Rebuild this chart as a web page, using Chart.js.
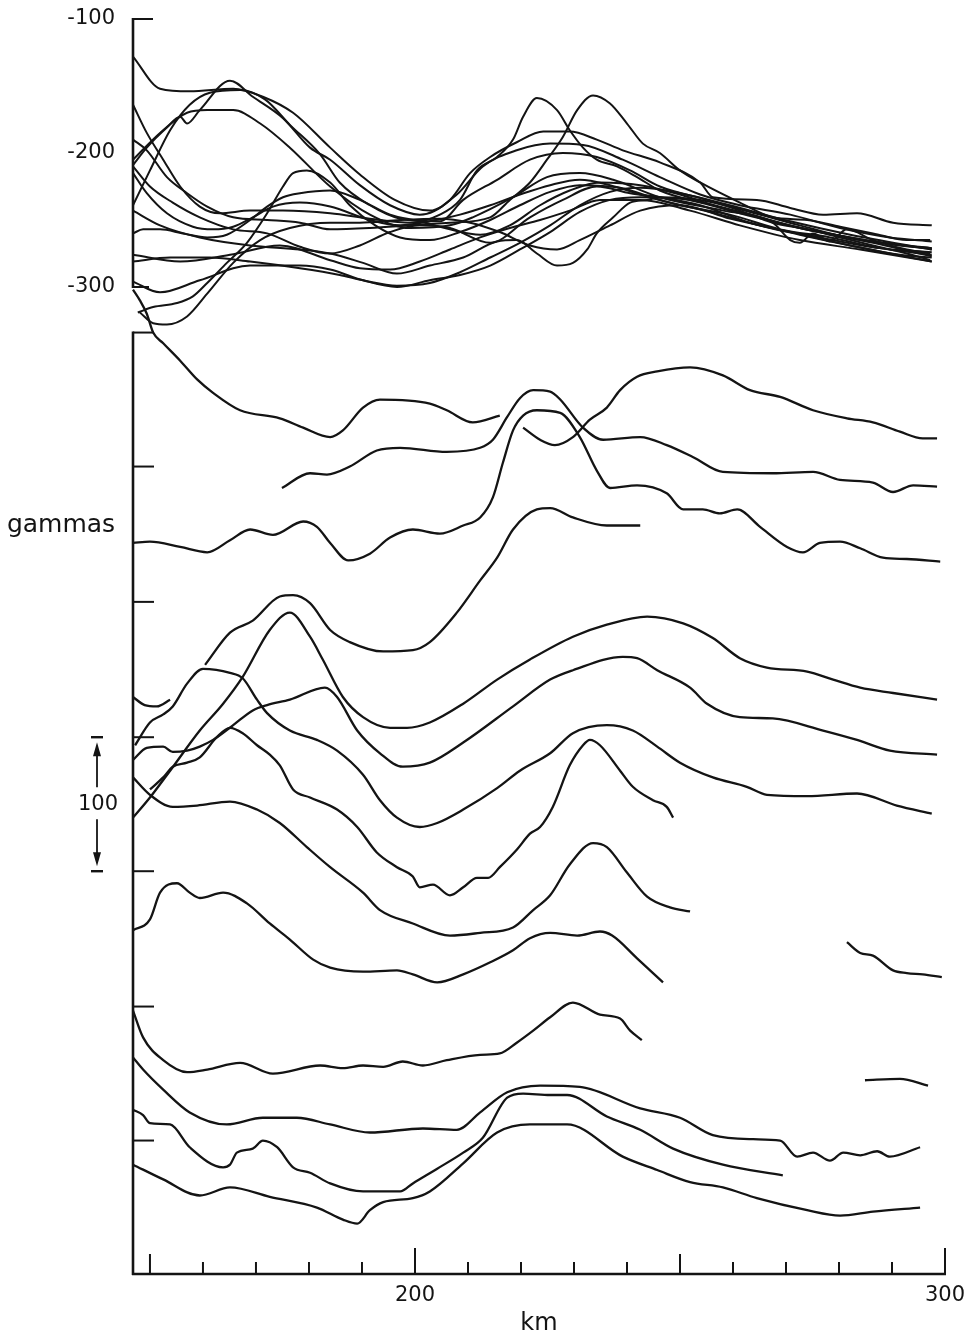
<!DOCTYPE html>
<html>
<head>
<meta charset="utf-8">
<script src="https://cdn.jsdelivr.net/npm/chart.js@4.4.1/dist/chart.umd.min.js"></script>
<style>
  html, body { margin: 0; padding: 0; background: #fff; }
  canvas { display: block; }
</style>
</head>
<body>
<canvas id="profileChart" width="976" height="1340"></canvas>
<script>
// axis ticks (km along track, gammas)
var kmTicks = [150, 160, 170, 180, 190, 200, 210, 220, 230, 240, 250, 260, 270, 280, 290, 300];
var kmLabels = [200, 300];
var kmLongTicks = [150, 200, 250, 300];
var gammaLabels = [-100, -200, -300];
var lowerTicks = [-334, -434, -535, -636, -736, -837, -937];
var scaleBarTop = -636;   // the "100 gammas" bar starts at this tick
var gammasLabelAt = -478;

// upper group: superposed profiles, [km, gammas]
var upper01 = [[146.8,-128],[151.9,-152],[157.5,-154],[165.7,-152],[171.3,-158],[177.0,-170],[184.0,-196],[189.6,-216],[196.2,-235],[202.8,-243],[207.9,-231],[212.8,-210],[219.2,-198],[225.5,-193],[231.7,-194],[239.2,-205],[246.2,-218],[253.8,-231],[261.3,-239],[270.8,-246],[280.2,-256],[289.6,-263],[297.5,-266]];
var upper02 = [[146.8,-209],[149.4,-196],[153.2,-181],[155.7,-173],[157.0,-178],[159.4,-168],[165.1,-146],[169.4,-158],[175.1,-174],[180.2,-196],[184.0,-205],[189.6,-224],[195.3,-239],[200.9,-246],[206.6,-235],[210.4,-215],[214.2,-203],[219.2,-192],[224.2,-184],[229.2,-184],[234.3,-190],[239.2,-198],[246.2,-207],[253.8,-222],[256.2,-233],[264.5,-235],[270.8,-241],[277.0,-246],[283.4,-245],[290.2,-252],[297.5,-254]];
var upper03 = [[146.8,-239],[150.0,-213],[153.8,-183],[157.5,-164],[161.3,-155],[167.0,-153],[171.7,-160],[176.4,-179],[182.1,-201],[185.8,-222],[191.5,-239],[197.2,-249],[204.7,-251],[209.1,-235],[215.5,-220],[221.7,-205],[227.9,-200],[234.3,-203],[240.6,-213],[246.2,-225],[255.1,-235],[261.3,-243],[267.5,-252],[274.0,-257],[280.2,-263],[286.4,-269],[292.8,-275],[297.2,-280]];
var upper04 = [[146.8,-205],[151.9,-185],[157.0,-170],[160.8,-168],[165.7,-168],[170.8,-178],[176.4,-196],[184.0,-225],[191.5,-246],[199.1,-256],[206.6,-254],[210.9,-248],[218.5,-233],[224.9,-218],[231.1,-215],[237.4,-220],[246.2,-233],[258.1,-243],[267.5,-252],[270.8,-265],[272.6,-267],[275.1,-260],[278.3,-266],[281.5,-257],[286.4,-265],[292.8,-272],[297.2,-275]];
var upper05 = [[146.8,-164],[149.4,-185],[152.5,-205],[155.7,-225],[159.4,-240],[163.2,-245],[168.9,-243],[175.1,-243],[184.0,-245],[191.5,-249],[199.1,-252],[204.7,-246],[208.5,-235],[211.7,-213],[215.5,-203],[218.5,-190],[220.4,-173],[223.0,-159],[226.8,-168],[229.2,-183],[231.7,-196],[234.3,-205],[238.1,-210],[241.9,-218],[246.2,-228],[253.8,-237],[263.2,-246],[272.6,-256],[282.1,-263],[291.5,-269],[297.5,-271]];
var upper06 = [[146.8,-190],[149.4,-198],[153.2,-218],[157.0,-230],[160.8,-240],[165.7,-248],[172.1,-250],[178.3,-252],[184.0,-257],[191.5,-256],[199.1,-254],[206.6,-252],[214.2,-248],[217.9,-235],[221.7,-222],[224.9,-205],[227.9,-188],[230.6,-168],[233.6,-157],[236.8,-163],[240.0,-178],[243.0,-193],[246.2,-200],[250.0,-213],[253.8,-222],[261.3,-237],[267.5,-248],[274.0,-250],[280.2,-255],[286.4,-260],[292.8,-265],[297.2,-265]];
var upper07 = [[146.8,-210],[150.0,-225],[154.3,-237],[159.4,-248],[165.7,-257],[172.1,-260],[178.3,-270],[184.0,-275],[189.6,-269],[195.3,-259],[200.9,-254],[206.6,-256],[214.2,-267],[221.7,-248],[227.9,-235],[234.3,-225],[240.6,-230],[246.2,-233],[253.8,-239],[263.2,-252],[272.6,-261],[282.1,-269],[291.5,-276],[297.5,-278]];
var upper08 = [[146.8,-215],[149.4,-230],[153.2,-245],[158.1,-255],[161.9,-257],[165.7,-255],[169.4,-248],[173.2,-240],[178.3,-237],[184.0,-240],[191.5,-250],[197.2,-254],[202.8,-251],[208.5,-246],[214.2,-239],[219.8,-231],[225.5,-224],[231.1,-220],[236.8,-224],[242.5,-231],[250.0,-239],[259.4,-246],[268.9,-257],[278.3,-263],[287.7,-271],[297.5,-276]];
var upper09 = [[146.8,-260],[148.7,-257],[151.9,-257],[156.2,-260],[160.8,-263],[164.5,-261],[168.9,-250],[172.1,-240],[175.1,-233],[178.3,-230],[184.0,-228],[189.6,-235],[195.3,-246],[200.9,-251],[206.6,-257],[212.3,-261],[217.9,-254],[223.6,-239],[229.2,-228],[234.9,-222],[242.5,-224],[250.0,-231],[259.4,-243],[270.8,-254],[282.1,-263],[297.5,-272]];
var upper10 = [[147.7,-319],[150.6,-315],[155.1,-312],[158.1,-307],[160.8,-297],[164.5,-282],[168.3,-267],[172.1,-245],[175.1,-225],[177.0,-215],[179.6,-213],[184.0,-222],[187.7,-239],[192.5,-254],[197.2,-263],[202.8,-265],[208.5,-259],[214.2,-250],[219.8,-239],[225.5,-229],[231.1,-224],[238.7,-226],[246.2,-235],[255.7,-244],[265.1,-254],[276.4,-263],[287.7,-271],[297.5,-274]];
var upper11 = [[148.1,-319],[150.6,-327],[153.2,-328],[157.0,-322],[160.8,-305],[165.7,-282],[170.8,-265],[176.4,-256],[184.0,-252],[189.6,-252],[197.2,-250],[204.7,-249],[210.4,-252],[216.0,-259],[221.7,-269],[226.8,-272],[231.1,-265],[236.8,-254],[242.5,-243],[250.0,-239],[259.4,-249],[270.8,-259],[282.1,-269],[297.5,-281]];
var upper12 = [[146.8,-276],[155.7,-281],[165.1,-276],[174.5,-269],[184.0,-280],[189.6,-286],[195.3,-287],[200.9,-281],[206.6,-272],[212.3,-263],[217.9,-256],[223.6,-250],[229.2,-243],[234.9,-235],[242.5,-235],[251.9,-243],[261.3,-254],[272.6,-265],[284.0,-272],[297.5,-281]];
var upper13 = [[146.8,-281],[153.8,-278],[161.3,-278],[168.9,-281],[178.3,-286],[185.8,-291],[190.2,-295],[196.6,-299],[202.8,-297],[208.5,-289],[214.2,-278],[219.8,-267],[225.5,-254],[231.1,-239],[236.8,-229],[242.5,-226],[250.0,-230],[259.4,-239],[270.8,-251],[282.1,-261],[297.5,-272]];
var upper14 = [[146.8,-243],[151.9,-254],[159.4,-263],[168.9,-269],[178.3,-272],[184.0,-275],[190.2,-282],[196.6,-290],[202.8,-284],[209.1,-278],[215.5,-266],[219.2,-265],[223.0,-275],[226.8,-284],[229.8,-282],[232.5,-272],[234.3,-260],[237.4,-248],[240.6,-237],[243.8,-235],[246.2,-233],[253.8,-235],[263.2,-244],[272.6,-254],[284.0,-265],[297.5,-271]];
var upper15 = [[146.8,-296],[151.9,-304],[159.4,-295],[168.9,-284],[178.3,-284],[184.0,-287],[190.2,-295],[196.6,-300],[202.8,-295],[208.5,-291],[214.2,-284],[219.8,-272],[225.5,-259],[231.1,-244],[236.8,-235],[242.5,-233],[251.9,-235],[261.3,-244],[272.6,-256],[284.0,-265],[297.5,-277]];

// lower group: stacked profiles, each shifted down, [km, gammas]
var lower01 = [[146.8,-302],[148.1,-310],[149.4,-320],[150.6,-334],[152.5,-342],[155.7,-355],[158.9,-369],[161.9,-379],[167.0,-392],[174.5,-398],[178.9,-405],[184.0,-412],[186.4,-407],[190.2,-390],[193.4,-384],[202.8,-387],[206.0,-392],[210.9,-401],[216.0,-396],[218.2,null],[220.4,-405],[223.6,-414],[226.4,-418],[229.8,-412],[233.0,-399],[236.2,-390],[238.7,-377],[241.9,-367],[245.7,-363],[251.9,-360],[258.1,-366],[263.2,-377],[268.9,-382],[275.1,-392],[281.5,-398],[286.4,-401],[291.5,-408],[295.8,-413],[298.5,-413]];
var lower02 = [[174.9,-450],[180.2,-439],[183.4,-440],[187.7,-434],[192.8,-422],[197.2,-420],[206.0,-423],[212.3,-420],[214.7,-414],[217.4,-397],[219.8,-383],[222.3,-377],[225.5,-378],[227.4,-384],[231.7,-405],[235.5,-414],[242.5,-412],[247.5,-418],[252.5,-427],[258.1,-438],[267.5,-439],[275.1,-438],[280.2,-444],[286.4,-446],[290.2,-453],[294.0,-448],[298.5,-449]];
var lower03 = [[146.8,-491],[150.0,-490],[155.7,-494],[160.8,-498],[165.1,-489],[168.9,-481],[173.2,-485],[178.9,-475],[181.5,-479],[184.0,-491],[187.4,-504],[191.5,-499],[195.3,-487],[199.6,-481],[204.7,-484],[209.1,-478],[212.3,-472],[214.7,-457],[216.6,-431],[218.5,-407],[220.4,-396],[223.0,-392],[227.4,-394],[231.1,-412],[234.3,-437],[236.8,-450],[241.9,-448],[247.5,-454],[250.6,-466],[254.3,-466],[257.5,-469],[260.8,-466],[265.1,-479],[270.2,-494],[273.2,-498],[276.4,-491],[280.2,-490],[284.0,-495],[288.3,-502],[292.8,-503],[299.1,-505]];
var lower04 = [[160.4,-582],[165.1,-558],[169.4,-549],[174.5,-531],[177.0,-530],[180.2,-536],[184.0,-556],[187.7,-565],[194.0,-572],[199.6,-571],[202.8,-565],[207.9,-543],[212.3,-519],[215.5,-502],[218.5,-481],[223.0,-466],[225.5,-465],[229.8,-472],[236.2,-478],[242.5,-478]];
var lower05 = [[146.8,-696],[150.0,-681],[153.8,-661],[159.4,-631],[163.8,-611],[167.5,-591],[172.6,-556],[176.4,-543],[180.2,-561],[182.6,-578],[186.4,-606],[190.2,-621],[195.3,-629],[198.5,-629],[202.8,-625],[209.1,-611],[215.5,-593],[221.7,-578],[229.8,-561],[236.2,-552],[243.8,-546],[250.6,-551],[256.2,-562],[261.3,-577],[266.4,-584],[274.0,-587],[278.9,-593],[284.0,-599],[290.2,-603],[298.5,-608]];
var lower06 = [[146.8,-653],[149.4,-644],[152.5,-643],[154.3,-647],[157.0,-646],[159.4,-643],[161.9,-638],[165.7,-627],[169.4,-616],[172.1,-612],[176.4,-608],[183.0,-599],[185.3,-606],[189.1,-631],[193.4,-648],[197.7,-658],[202.8,-655],[209.1,-640],[218.5,-613],[225.5,-593],[229.8,-586],[239.2,-576],[241.9,-577],[245.7,-586],[251.9,-599],[255.1,-611],[261.3,-621],[267.5,-622],[277.0,-631],[283.4,-638],[289.6,-646],[298.5,-649]];
var lower07 = [[147.2,-642],[150.0,-625],[152.5,-619],[154.3,-613],[157.0,-596],[160.0,-585],[165.1,-588],[167.5,-592],[170.2,-608],[172.1,-618],[176.4,-631],[181.5,-638],[185.3,-646],[190.2,-664],[193.4,-683],[196.6,-696],[200.9,-703],[204.2,-700],[209.1,-690],[215.5,-674],[219.8,-661],[225.5,-648],[229.8,-633],[236.2,-627],[241.1,-631],[245.7,-643],[250.0,-655],[256.2,-666],[262.6,-673],[266.4,-679],[274.0,-680],[283.4,-678],[290.9,-687],[297.5,-693]];
var lower08 = [[150.0,-675],[152.5,-666],[154.3,-658],[157.0,-655],[159.4,-651],[162.6,-636],[165.1,-629],[167.5,-633],[170.2,-642],[172.6,-649],[174.5,-657],[177.0,-675],[180.2,-681],[185.3,-690],[189.1,-703],[192.8,-722],[196.6,-733],[199.6,-740],[200.9,-748],[203.4,-746],[206.6,-754],[209.1,-748],[211.7,-741],[213.8,-741],[216.0,-733],[219.2,-720],[221.7,-708],[223.6,-703],[226.0,-688],[229.2,-657],[231.7,-642],[233.0,-638],[234.9,-642],[238.7,-661],[241.1,-673],[244.9,-683],[247.5,-688],[248.7,-696]];
var lower09 = [[146.8,-666],[150.0,-679],[154.3,-688],[158.9,-687],[165.1,-684],[170.2,-690],[174.5,-700],[179.6,-718],[184.0,-733],[190.2,-752],[193.4,-765],[199.6,-775],[206.6,-784],[212.3,-782],[218.5,-778],[222.3,-765],[225.5,-754],[229.2,-731],[233.6,-715],[236.2,-718],[240.0,-737],[243.8,-755],[248.1,-763],[251.9,-766]];
var lower10 = [[146.8,-606],[149.0,-612],[151.3,-613],[153.8,-608]];
var lower11 = [[146.8,-780],[150.0,-772],[151.9,-752],[155.1,-745],[157.5,-752],[159.4,-756],[163.8,-752],[168.3,-760],[172.6,-775],[176.4,-787],[180.8,-802],[184.0,-808],[190.2,-811],[196.6,-810],[199.6,-813],[204.2,-819],[209.1,-813],[214.2,-804],[218.5,-795],[221.7,-786],[225.5,-782],[230.6,-784],[234.9,-781],[237.2,-784],[241.9,-801],[246.8,-819]];
var lower12 = [[146.8,-840],[148.7,-860],[152.5,-877],[157.0,-886],[160.8,-884],[167.0,-879],[173.2,-887],[182.1,-881],[186.4,-883],[190.2,-881],[194.0,-882],[197.7,-878],[201.5,-881],[206.0,-877],[212.3,-873],[216.0,-872],[219.2,-864],[222.3,-855],[225.5,-845],[229.8,-834],[234.9,-843],[238.7,-846],[240.6,-855],[242.8,-862]];
var lower13 = [[146.8,-875],[148.7,-884],[152.5,-899],[157.5,-916],[164.5,-925],[171.3,-920],[177.7,-920],[184.0,-925],[191.5,-931],[201.5,-928],[207.9,-929],[212.3,-916],[217.4,-901],[223.6,-896],[231.1,-897],[242.5,-913],[250.0,-920],[256.2,-933],[263.8,-936],[268.9,-937],[272.1,-949],[275.1,-946],[278.3,-952],[280.8,-946],[284.0,-948],[287.2,-945],[289.6,-949],[295.3,-942]];
var lower14 = [[146.8,-914],[148.7,-918],[150.0,-924],[153.8,-925],[157.5,-942],[163.8,-957],[165.1,-955],[166.4,-946],[169.4,-943],[171.3,-937],[174.0,-942],[177.0,-957],[180.2,-961],[184.0,-969],[190.2,-975],[197.2,-975],[199.6,-969],[204.2,-958],[209.1,-946],[212.8,-935],[217.4,-905],[220.4,-902],[225.5,-903],[228.7,-903],[236.2,-919],[242.5,-929],[248.7,-943],[258.1,-955],[269.4,-963]];
var lower15 = [[146.8,-955],[152.5,-966],[159.4,-978],[165.1,-972],[172.6,-979],[181.5,-987],[186.4,-996],[189.1,-999],[191.5,-989],[194.0,-983],[199.6,-980],[202.8,-975],[209.1,-954],[215.5,-931],[221.7,-925],[228.7,-925],[239.2,-949],[245.7,-959],[251.9,-968],[258.1,-972],[264.5,-980],[274.0,-989],[280.2,-993],[286.4,-990],[295.3,-987]];
var lower16 = [[281.5,-789],[284.0,-797],[286.4,-799],[290.2,-810],[292.8,-812],[295.8,-813],[299.4,-815]];
var lower17 = [[284.9,-892],[291.5,-891],[296.8,-896]];

var upperGroup = [upper01, upper02, upper03, upper04, upper05, upper06, upper07, upper08,
  upper09, upper10, upper11, upper12, upper13, upper14, upper15];
var lowerGroup = [lower01, lower02, lower03, lower04, lower05, lower06, lower07, lower08, lower09,
  lower10, lower11, lower12, lower13, lower14, lower15, lower16, lower17];

var ink = '#141414';
var fontFamily = "'DejaVu Sans', sans-serif";

// axis line with a gap, inward ticks, the 100-gamma bar and the side label
var framePlugin = {
  id: 'frame',
  afterDatasetsDraw: function (chart) {
    var ctx = chart.ctx, a = chart.chartArea;
    var xs = chart.scales.x, ys = chart.scales.y;
    var L = a.left;

    function seg(x1, y1, x2, y2) {
      ctx.beginPath();
      ctx.moveTo(x1, y1);
      ctx.lineTo(x2, y2);
      ctx.stroke();
    }

    ctx.save();
    ctx.strokeStyle = ink;
    ctx.fillStyle = ink;
    ctx.lineWidth = 2.6;

    // vertical axis: upper piece, then the long lower piece
    seg(L, ys.getPixelForValue(gammaLabels[0]) - 1, L, ys.getPixelForValue(gammaLabels[2]) + 1);
    seg(L, ys.getPixelForValue(lowerTicks[0]) - 1, L, a.bottom + 1);

    ctx.lineWidth = 2;
    seg(L, ys.getPixelForValue(gammaLabels[0]), L + 20, ys.getPixelForValue(gammaLabels[0]));
    seg(L, ys.getPixelForValue(gammaLabels[2]), L + 16, ys.getPixelForValue(gammaLabels[2]));
    lowerTicks.forEach(function (v) {
      var py = ys.getPixelForValue(v);
      seg(L, py, L + 21, py);
    });

    // horizontal axis with upward ticks
    ctx.lineWidth = 2.6;
    seg(L - 1, a.bottom, a.right + 1, a.bottom);
    ctx.lineWidth = 2;
    kmTicks.forEach(function (v) {
      var px = xs.getPixelForValue(v);
      var len = 12;
      if (v === 200 || v === 300) len = 26;
      else if (kmLongTicks.indexOf(v) >= 0) len = 20;
      seg(px, a.bottom, px, a.bottom - len);
    });

    // scale bar: 100 gammas
    var bx = 97;
    var top = ys.getPixelForValue(scaleBarTop);
    var bot = ys.getPixelForValue(scaleBarTop - 100);
    var mid = (top + bot) / 2;
    ctx.lineWidth = 2.4;
    seg(bx - 6, top, bx + 6, top);
    seg(bx - 6, bot, bx + 6, bot);
    ctx.lineWidth = 1.8;
    seg(bx, top + 14, bx, mid - 17);
    seg(bx, mid + 15, bx, bot - 14);
    ctx.beginPath();
    ctx.moveTo(bx, top + 5);
    ctx.lineTo(bx - 4, top + 19);
    ctx.lineTo(bx + 4, top + 19);
    ctx.closePath();
    ctx.fill();
    ctx.beginPath();
    ctx.moveTo(bx, bot - 5);
    ctx.lineTo(bx - 4, bot - 19);
    ctx.lineTo(bx + 4, bot - 19);
    ctx.closePath();
    ctx.fill();

    ctx.font = '21px ' + fontFamily;
    ctx.textAlign = 'center';
    ctx.textBaseline = 'middle';
    ctx.fillText('100', bx + 1, mid);

    ctx.font = '25px ' + fontFamily;
    ctx.fillText('gammas', 61, ys.getPixelForValue(gammasLabelAt));
    ctx.restore();
  }
};

function toDataset(p, width) {
  return {
    data: p.map(function (pt) { return { x: pt[0], y: pt[1] }; }),
    borderColor: ink,
    borderWidth: width,
    pointRadius: 0,
    fill: false,
    spanGaps: false,
    clip: false,
    cubicInterpolationMode: 'monotone'
  };
}

new Chart(document.getElementById('profileChart'), {
  type: 'line',
  data: {
    datasets: upperGroup.map(function (p) { return toDataset(p, 2); })
      .concat(lowerGroup.map(function (p) { return toDataset(p, 2.3); }))
  },
  options: {
    responsive: false,
    animation: false,
    events: [],
    layout: { padding: { top: 19, right: 31, bottom: 0, left: 0 } },
    plugins: { legend: { display: false }, tooltip: { enabled: false } },
    scales: {
      x: {
        type: 'linear',
        min: 146.8,
        max: 300,
        grid: { display: false, drawTicks: false },
        border: { display: false },
        afterBuildTicks: function (s) { s.ticks = kmTicks.map(function (v) { return { value: v }; }); },
        afterFit: function (s) { s.height = 66; s.paddingLeft = 0; s.paddingRight = 0; },
        ticks: {
          autoSkip: false,
          maxRotation: 0,
          padding: 9,
          color: ink,
          font: { family: fontFamily, size: 21 },
          callback: function (v) { return kmLabels.indexOf(v) >= 0 ? String(v) : ''; }
        },
        title: {
          display: true,
          text: 'km',
          color: ink,
          font: { family: fontFamily, size: 24 },
          padding: { top: 0, bottom: 2 }
        }
      },
      y: {
        type: 'linear',
        min: -1036.6,
        max: -100,
        grid: { display: false, drawTicks: false },
        border: { display: false },
        afterBuildTicks: function (s) { s.ticks = gammaLabels.map(function (v) { return { value: v }; }); },
        afterFit: function (s) { s.width = 133; s.paddingTop = 0; s.paddingBottom = 0; },
        ticks: {
          autoSkip: false,
          padding: 18,
          color: ink,
          font: { family: fontFamily, size: 21 },
          callback: function (v) { return String(v); }
        }
      }
    }
  },
  plugins: [framePlugin]
});
</script>
</body>
</html>
